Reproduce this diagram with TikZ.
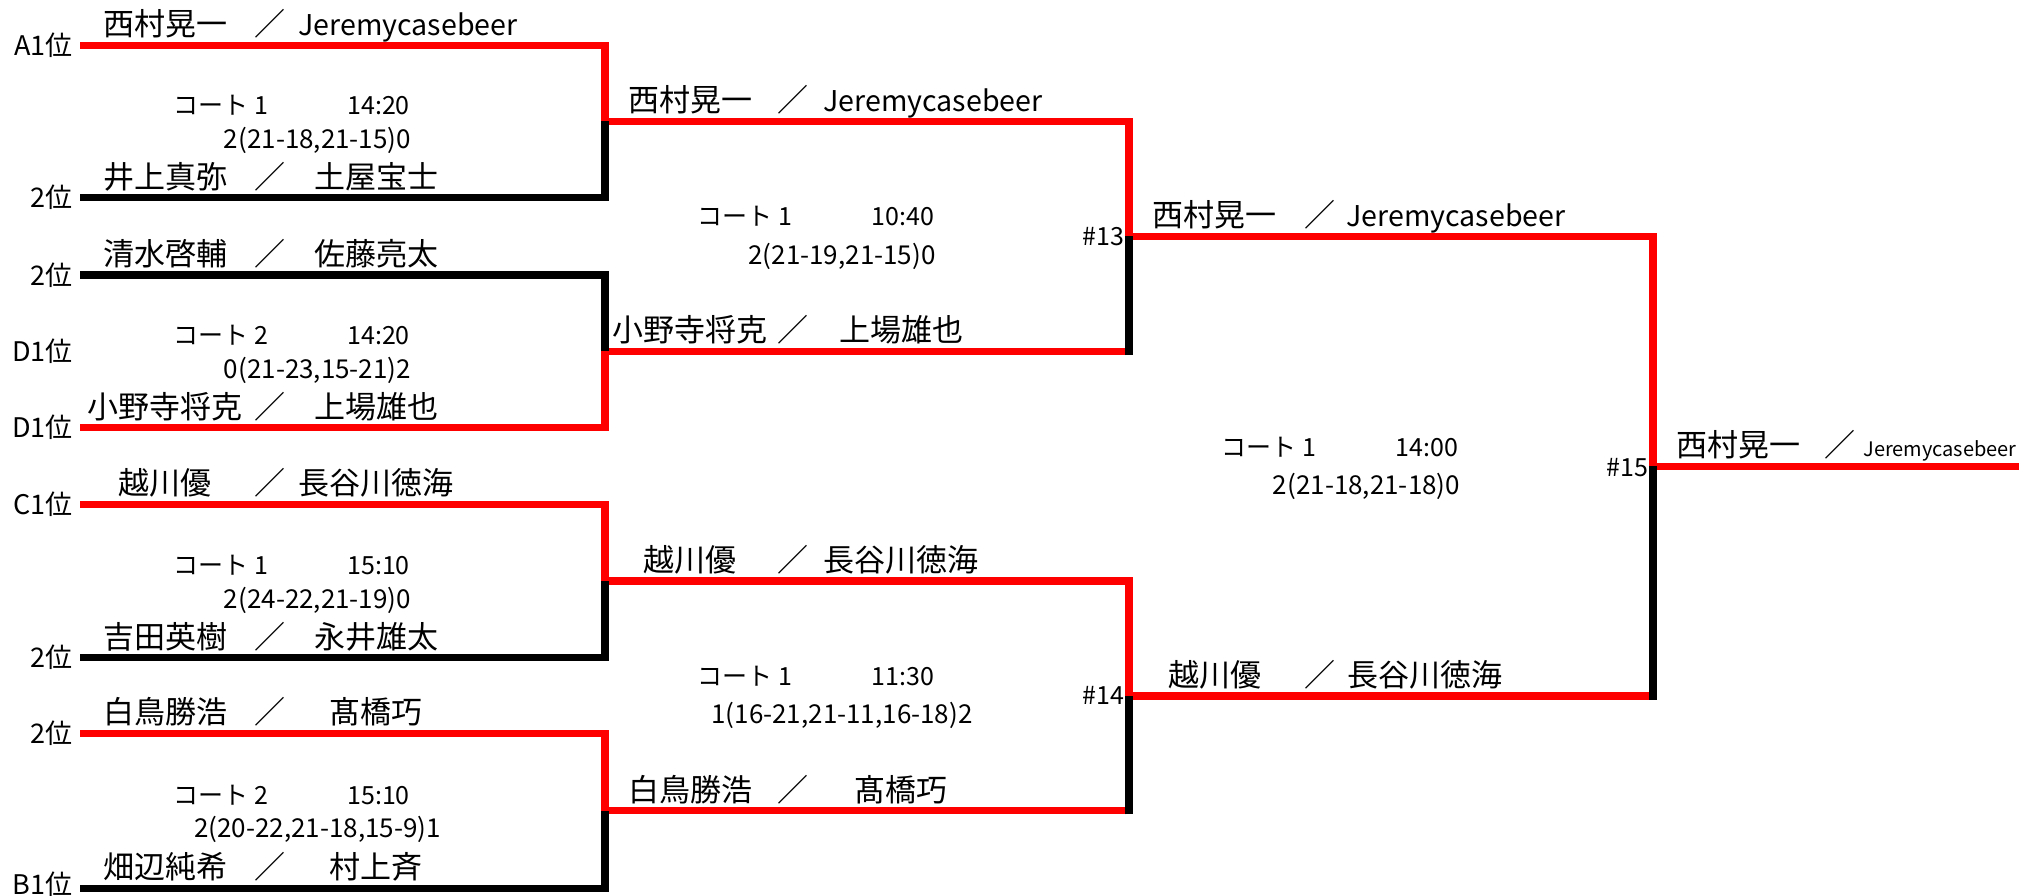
\documentclass[tikz,border=0pt]{standalone}
\usepackage{fontspec}
\setmainfont{Noto Sans CJK JP}
\usepackage{tikz}
\usetikzlibrary{positioning, calc}
\usepackage{xcolor}
\definecolor{winred}{HTML}{FF0000}

\begin{document}
\begin{tikzpicture}[x=0.5pt, y=-0.5pt,
  win/.style={draw=winred, line width=3.65pt},
  lose/.style={draw=black, line width=3.65pt},
  losevert/.style={lose, shorten <=-1.825pt},
  player/.style={font=\fontsize{15.5}{18}\selectfont, inner sep=0pt, anchor=base},
  latinname/.style={player, anchor=base west, font=\fontsize{14.3}{17}\selectfont},
  seed/.style={font=\fontsize{13.5}{16}\selectfont, inner sep=0pt, anchor=base east},
  court/.style={font=\fontsize{12.5}{15}\selectfont, inner sep=0pt, anchor=base west},
  score/.style={font=\fontsize{13}{16}\selectfont, inner sep=0pt, anchor=base},
  matchno/.style={font=\fontsize{12.5}{15}\selectfont, inner sep=0pt, anchor=base east}]
\useasboundingbox (0,0) rectangle (2019,895);

% slots
\coordinate (e1) at (80,45.3);
\coordinate (e2) at (80,197.5);
\coordinate (e3) at (80,275);
\coordinate (e4) at (80,427.7);
\coordinate (e5) at (80,504.3);
\coordinate (e6) at (80,657.7);
\coordinate (e7) at (80,733.3);
\coordinate (e8) at (80,888.3);
\coordinate (m1) at (605,121.4);
\coordinate (m2) at (605,351.4);
\coordinate (m3) at (605,581);
\coordinate (m4) at (605,810.8);
\coordinate (s1) at (1129,236.4);
\coordinate (s2) at (1129,695.9);
\coordinate (f1) at (1653,466.2);
\coordinate (champ) at (2019,466.2);

% lines, last round first
\draw[win] (f1) -- (champ);
\draw[win] (s1) -| (f1);
\draw[win] (s2) -- (s2 -| f1);
\draw[losevert] (s2 -| f1) -- (f1);
\draw[win] (m1) -| (s1);
\draw[win] (m2) -- (m2 -| s1);
\draw[losevert] (m2 -| s1) -- (s1);
\draw[win] (m3) -| (s2);
\draw[win] (m4) -- (m4 -| s2);
\draw[losevert] (m4 -| s2) -- (s2);
\draw[win] (e1) -| (m1);
\draw[lose] (e2) -| (m1);
\draw[lose] (e3) -| (m2);
\draw[win] (e4) -| (m2);
\draw[win] (e5) -| (m3);
\draw[lose] (e6) -| (m3);
\draw[win] (e7) -| (m4);
\draw[lose] (e8) -| (m4);

% seeds
\node[seed] (sd1) at (73,55.3) {A1位};
\node[seed] (sd2) at (73,207.5) {2位};
\node[seed] (sd3) at (73,285) {2位};
\node[seed] (sd4) at (73,361.4) {D1位};
\node[seed] (sd5) at (73,437.7) {D1位};
\node[seed] (sd6) at (73,514.3) {C1位};
\node[seed] (sd7) at (73,667.7) {2位};
\node[seed] (sd8) at (73,743.3) {2位};
\node[seed] (sd9) at (73,894) {B1位};

% round 1 pairs
\node[player] (p1a) at (165,35.8) {西村晃一};
\node[player] (p1s) at (270,35.8) {／};
\node[latinname] (p1b) at (298,35.8) {Jeremycasebeer};
\node[player] (p2a) at (165,188) {井上真弥};
\node[player] (p2s) at (270,188) {／};
\node[player] (p2b) at (376,188) {土屋宝士};
\node[player] (p3a) at (165,265.5) {清水啓輔};
\node[player] (p3s) at (270,265.5) {／};
\node[player] (p3b) at (376,265.5) {佐藤亮太};
\node[player] (p4a) at (165,418.2) {小野寺将克};
\node[player] (p4s) at (270,418.2) {／};
\node[player] (p4b) at (376,418.2) {上場雄也};
\node[player] (p5a) at (165,494.8) {越川優};
\node[player] (p5s) at (270,494.8) {／};
\node[player] (p5b) at (376,494.8) {長谷川徳海};
\node[player] (p6a) at (165,648.2) {吉田英樹};
\node[player] (p6s) at (270,648.2) {／};
\node[player] (p6b) at (376,648.2) {永井雄太};
\node[player] (p7a) at (165,723.8) {白鳥勝浩};
\node[player] (p7s) at (270,723.8) {／};
\node[player] (p7b) at (376,723.8) {髙橋巧};
\node[player] (p8a) at (165,878.8) {畑辺純希};
\node[player] (p8s) at (270,878.8) {／};
\node[player] (p8b) at (376,878.8) {村上斉};

% round 2 pairs
\node[player] (q1a) at (690,111.9) {西村晃一};
\node[player] (q1s) at (793,111.9) {／};
\node[latinname] (q1b) at (823,111.9) {Jeremycasebeer};
\node[player] (q2a) at (690,341.9) {小野寺将克};
\node[player] (q2s) at (793,341.9) {／};
\node[player] (q2b) at (901,341.9) {上場雄也};
\node[player] (q3a) at (690,571.5) {越川優};
\node[player] (q3s) at (793,571.5) {／};
\node[player] (q3b) at (901,571.5) {長谷川徳海};
\node[player] (q4a) at (690,801.3) {白鳥勝浩};
\node[player] (q4s) at (793,801.3) {／};
\node[player] (q4b) at (901,801.3) {髙橋巧};

% round 3 pairs and winner
\node[player] (r1a) at (1214.5,226.9) {西村晃一};
\node[player] (r1s) at (1320,226.9) {／};
\node[latinname] (r1b) at (1346,226.9) {Jeremycasebeer};
\node[player] (r2a) at (1214.5,686.4) {越川優};
\node[player] (r2s) at (1320,686.4) {／};
\node[player] (r2b) at (1425,686.4) {長谷川徳海};
\node[player] (wa) at (1738,456.7) {西村晃一};
\node[player] (ws) at (1839.5,456.7) {／};
\node[latinname, font=\fontsize{10}{12}\selectfont] (wb) at (1863,456.7) {Jeremycasebeer};

% match info
\node[court] (c1) at (173,114.9) {コート 1};
\node[court] (t1) at (347,114.9) {14:20};
\node[score] (r1) at (317.5,148.4) {2(21-18,21-15)0};
\node[court] (c2) at (173,344.9) {コート 2};
\node[court] (t2) at (347,344.9) {14:20};
\node[score] (r2) at (317.5,378.4) {0(21-23,15-21)2};
\node[court] (c3) at (173,574.5) {コート 1};
\node[court] (t3) at (347,574.5) {15:10};
\node[score] (r3) at (317.5,608) {2(24-22,21-19)0};
\node[court] (c4) at (173,804.3) {コート 2};
\node[court] (t4) at (347,804.3) {15:10};
\node[score] (r4) at (317.5,837.8) {2(20-22,21-18,15-9)1};
\node[court] (c13) at (697.5,225.9) {コート 1};
\node[court] (t13) at (871.5,225.9) {10:40};
\node[score] (r13) at (842,264.4) {2(21-19,21-15)0};
\node[court] (c14) at (697.5,685.4) {コート 1};
\node[court] (t14) at (871.5,685.4) {11:30};
\node[score] (r14) at (842,723.9) {1(16-21,21-11,16-18)2};
\node[court] (c15) at (1221,456.2) {コート 1};
\node[court] (t15) at (1395.5,456.2) {14:00};
\node[score] (r15) at (1366.5,494.2) {2(21-18,21-18)0};
\node[matchno] (no13) at (1125,245.4) {\#13};
\node[matchno] (no14) at (1125,704.9) {\#14};
\node[matchno] (no15) at (1649,476) {\#15};
\end{tikzpicture}
\end{document}
